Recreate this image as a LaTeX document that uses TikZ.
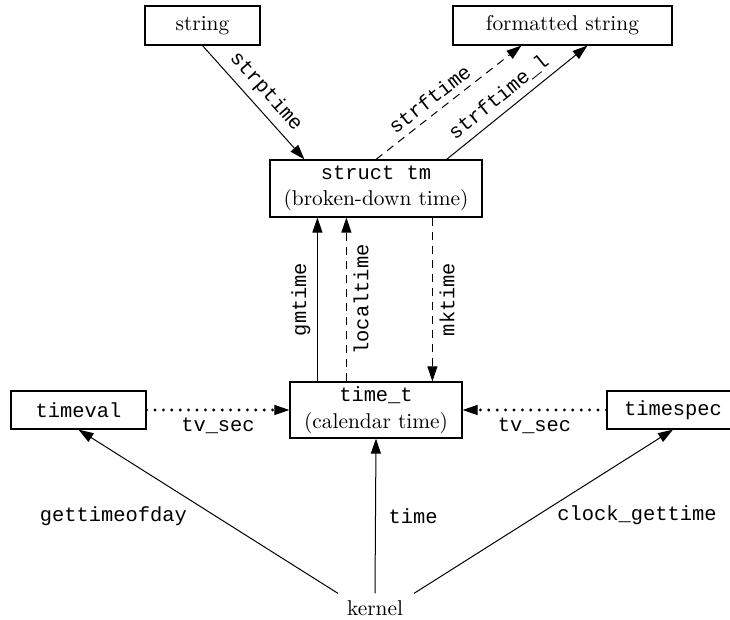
\documentclass[tikz,border=0pt]{standalone}
\usepackage{fontspec}
\setmonofont{Liberation Mono}
\usepackage{tikz}
\usetikzlibrary{arrows.meta,positioning}
\newcommand{\cfn}[1]{{\fontsize{10.2}{13.3}\selectfont\ttfamily #1}}
\tikzstyle{conn}=[
	-{Triangle[length=7.5pt,width=5pt,line width=0.5pt]},
	draw=black,
	line width=0.5pt
]
\tikzstyle{dconn}=[
	conn,
	dash pattern=on 4pt off 3pt
]
\tikzstyle{fconn}=[
	conn,
	line width=1.6pt,
	line cap=round,
	dash pattern=on 0pt off 4.2pt
]
\tikzstyle{tbox}=[
	draw=black,
	line width=0.6pt,
	inner sep=0pt,
	align=center
]
\tikzstyle{fn}=[
	font=\fontsize{10.2}{12}\selectfont\ttfamily
]

\begin{document}
\begin{tikzpicture}[x=0.5pt, y=-0.5pt, font=\fontsize{10.7}{13.3}\selectfont]
\useasboundingbox (0,0) rectangle (730,620);
\clip (0,0) rectangle (730,620);

\node[tbox, minimum width=57.5pt, minimum height=19.5pt] at (202.5, 25.5) (str) {string};
\node[tbox, minimum width=109.5pt, minimum height=19.5pt] at (562.5, 25.5) (fmt) {formatted string};
\node[tbox, minimum width=106pt, minimum height=28.5pt] at (376, 188.5) (tm) {\cfn{struct tm}\\(broken-down time)};
\node[tbox, minimum width=86pt, minimum height=28pt] at (376, 410) (tt) {\cfn{time\_t}\\(calendar time)};
\node[tbox, minimum width=67.5pt, minimum height=19pt] at (78.5, 410) (tvl) {\cfn{timeval}};
\node[tbox, minimum width=66pt, minimum height=19pt] at (673, 410) (tsp) {\cfn{timespec}};
\node at (375, 608) (kern) {kernel};

\draw[conn] (str.south) -- ([xshift=17.5pt]tm.north west)
    node[fn, pos=0.5, sloped, above] {strptime};
\draw[dconn] (tm.north) -- ([xshift=34.5pt]fmt.south west)
    node[fn, pos=0.43, sloped, above] {strftime};
\draw[conn] ([xshift=-18pt]tm.north east) -- ([xshift=67.5pt]fmt.south west)
    node[fn, pos=0.44, sloped, above] {strftime\_l};

\coordinate (gm) at ([xshift=14pt]tt.north west);
\coordinate (lt) at ([xshift=28.5pt]tt.north west);
\coordinate (mk) at ([xshift=81.5pt]tm.south west);
\draw[conn] (gm) -- (gm |- tm.south) node[fn, midway, rotate=90, anchor=south] {gmtime};
\draw[dconn] (lt) -- (lt |- tm.south) node[fn, midway, rotate=90, anchor=north] {localtime};
\draw[dconn] (mk) -- (mk |- tt.north) node[fn, midway, rotate=90, anchor=north] {mktime};

\draw[fconn] (tvl.east) -- (tt.west) node[fn, midway, below] {tv\_sec};
\draw[fconn] (tsp.west) -- (tt.east) node[fn, midway, below] {tv\_sec};

\draw[conn] ([xshift=-18.5pt]kern.north) -- (tvl.south)
    node[fn, pos=0.47, left=11pt] {gettimeofday};
\draw[conn] (kern.north) -- (tt.south) node[fn, midway, right=3pt] {time};
\draw[conn] ([xshift=19.5pt]kern.north) -- (tsp.south)
    node[fn, pos=0.476, right=6.5pt] {clock\_gettime};
\end{tikzpicture}
\end{document}
